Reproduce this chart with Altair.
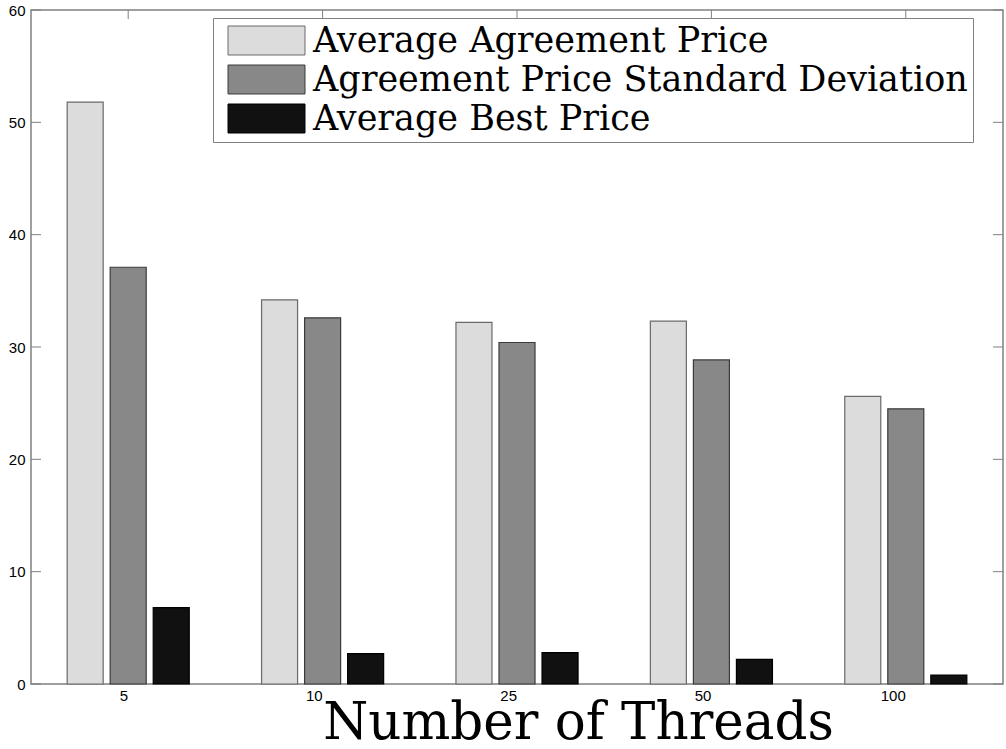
import altair as alt
import pandas as pd

threads = ["5", "10", "25", "50", "100"]
series = ["Average Agreement Price", "Agreement Price Standard Deviation", "Average Best Price"]
avg_agreement = [51.8, 34.2, 32.2, 32.3, 25.6]
std_dev = [37.1, 32.6, 30.4, 28.85, 24.5]
avg_best = [6.8, 2.7, 2.8, 2.2, 0.8]
y_ticks = [0, 10, 20, 30, 40, 50, 60]

fills = ["#dcdcdc", "#888888", "#111111"]
strokes = ["#6a6a6a", "#3a3a3a", "#000000"]

rows = []
for s, vals in zip(series, [avg_agreement, std_dev, avg_best]):
    for t, v in zip(threads, vals):
        rows.append({"threads": t, "series": s, "value": v})
df = pd.DataFrame(rows)
cat_df = pd.DataFrame({"threads": threads})
ytick_df = pd.DataFrame({"v": y_ticks})

W, H = 972, 674

xscale = alt.Scale(domain=threads, paddingInner=0.372, paddingOuter=0.186)
yscale = alt.Scale(domain=[0, 60], nice=False)

x_enc = alt.X(
    "threads:N",
    scale=xscale,
    sort=threads,
    axis=alt.Axis(
        title="Number of Threads",
        labelAngle=0,
        ticks=False,
        domain=False,
        labelFont="Liberation Sans",
        labelFontSize=15,
        labelColor="#000",
        labelPadding=11,
        titleFont="DejaVu Serif",
        titleFontSize=51.5,
        titleFontWeight="normal",
        titleColor="#000",
        titleBaseline="bottom",
        titleAlign="center",
        titleX=547,
        titleY=65,
    ),
)

bars = alt.Chart(df).mark_bar(opacity=1, strokeWidth=1.2).encode(
    x=x_enc,
    xOffset=alt.XOffset("series:N", sort=series,
                        scale=alt.Scale(domain=series, paddingInner=0.163, paddingOuter=0)),
    y=alt.Y(
        "value:Q",
        scale=yscale,
        axis=alt.Axis(
            title=None,
            values=y_ticks,
            ticks=False,
            domain=False,
            grid=False,
            labelFont="Liberation Sans",
            labelFontSize=15,
            labelColor="#000",
            labelPadding=6,
        ),
    ),
    fill=alt.Fill(
        "series:N",
        sort=series,
        scale=alt.Scale(domain=series, range=fills),
        legend=alt.Legend(
            title=None,
            orient="none",
            legendX=182,
            legendY=8,
            fillColor="white",
            strokeColor="#808080",
            padding=5,
            symbolType="M-2.655,-1H2.655V1H-2.655Z",
            symbolSize=841,
            symbolOffset=31,
            symbolStrokeColor="#555555",
            symbolStrokeWidth=1,
            symbolOpacity=1,
            labelFont="DejaVu Serif",
            labelFontSize=35,
            labelColor="#000",
            labelLimit=0,
            labelOffset=29,
            rowPadding=3,
        ),
    ),
    stroke=alt.Stroke("series:N", sort=series,
                      scale=alt.Scale(domain=series, range=strokes), legend=None),
)

top_ticks = alt.Chart(cat_df).mark_rule(color="#808080", strokeWidth=1).encode(
    x=alt.X("threads:N", sort=threads, scale=xscale),
    y=alt.value(0),
    y2=alt.value(9),
)
bottom_ticks = alt.Chart(cat_df).mark_rule(color="#808080", strokeWidth=1).encode(
    x=alt.X("threads:N", sort=threads, scale=xscale),
    y=alt.value(H),
    y2=alt.value(H - 9),
)
left_ticks = alt.Chart(ytick_df).mark_rule(color="#808080", strokeWidth=1).encode(
    y=alt.Y("v:Q", scale=yscale),
    x=alt.value(0),
    x2=alt.value(10),
)
right_ticks = alt.Chart(ytick_df).mark_rule(color="#808080", strokeWidth=1).encode(
    y=alt.Y("v:Q", scale=yscale),
    x=alt.value(W - 10),
    x2=alt.value(W),
)

chart = alt.layer(top_ticks, bottom_ticks, left_ticks, right_ticks, bars).properties(
    width=W,
    height=H,
    autosize=alt.AutoSizeParams(type="none"),
    padding={"left": 31, "top": 10, "right": 3, "bottom": 65},
    background="white",
).configure_view(
    stroke="#808080",
    strokeWidth=1.5,
)

chart.save("out.html", embed_options={"renderer": "svg", "actions": False})
